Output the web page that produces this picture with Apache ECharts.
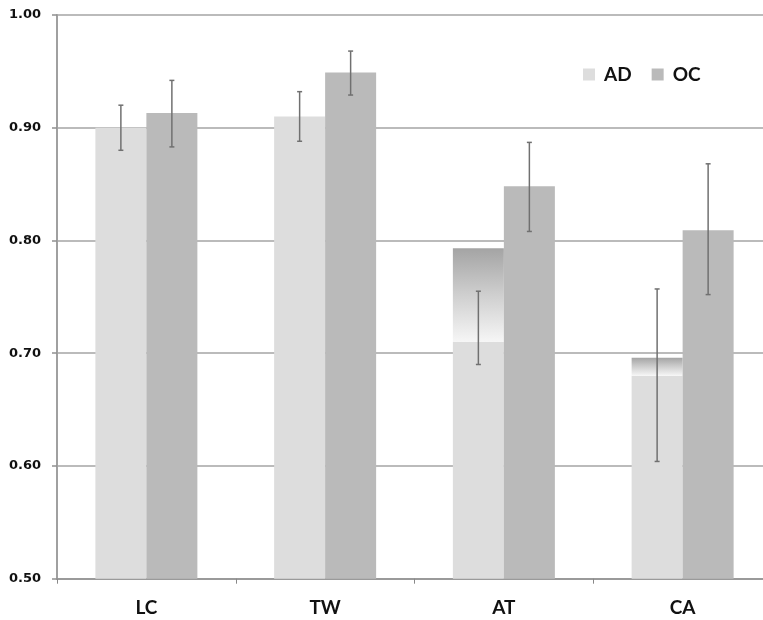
<!DOCTYPE html>
<html>
<head>
<meta charset="utf-8">
<script src="https://cdn.jsdelivr.net/npm/echarts@6/dist/echarts.min.js"></script>
<style>
  html, body { margin: 0; padding: 0; background: #ffffff; }
</style>
</head>
<body>
<div id="chart" style="width: 763px; height: 620px"></div>
<script>
  const categories = ['LC', 'TW', 'AT', 'CA']
  const yTicks = [0.5, 0.6, 0.7, 0.8, 0.9, 1.0]
  // AD 柱（实色部分）+ 顶部渐变部分
  const adValues = [0.900, 0.910, 0.710, 0.680]
  const adShade = [0, 0, 0.083, 0.016]
  const ocValues = [0.913, 0.949, 0.848, 0.809]
  // 误差线
  const adLow = [0.880, 0.888, 0.690, 0.604]
  const adHigh = [0.920, 0.932, 0.755, 0.757]
  const ocLow = [0.883, 0.929, 0.808, 0.752]
  const ocHigh = [0.942, 0.968, 0.887, 0.868]

  const BAR_W = 51

  function errorSeries(low, high, offset) {
    return {
      type: 'custom',
      z: 10,
      silent: true,
      data: categories.map((c, i) => [i, low[i], high[i]]),
      encode: { x: 0, y: [1, 2] },
      renderItem: function (params, api) {
        const i = api.value(0)
        const lo = api.coord([i, api.value(1)])
        const hi = api.coord([i, api.value(2)])
        const x = lo[0] + offset
        const cap = 2.5
        const style = { stroke: '#707070', lineWidth: 1.5 }
        return {
          type: 'group',
          children: [
            { type: 'line', shape: { x1: x, y1: hi[1], x2: x, y2: lo[1] }, style: style },
            { type: 'line', shape: { x1: x - cap, y1: hi[1], x2: x + cap, y2: hi[1] }, style: style },
            { type: 'line', shape: { x1: x - cap, y1: lo[1], x2: x + cap, y2: lo[1] }, style: style },
          ],
        }
      },
    }
  }

  const chart = echarts.init(document.getElementById('chart'))
  chart.setOption({
    animation: false,
    grid: { left: 57, right: -9, top: 15, bottom: 41.3, outerBoundsMode: 'none' },
    legend: {
      data: ['AD', 'OC'],
      left: 578,
      top: 60,
      itemWidth: 12,
      itemHeight: 12,
      itemGap: 20,
      icon: 'rect',
      textStyle: {
        fontFamily: 'Lato',
        fontWeight: 'bold',
        fontSize: 19,
        color: '#111',
        padding: [0, 0, 0, 4],
      },
    },
    xAxis: {
      type: 'category',
      data: categories,
      axisLine: { lineStyle: { color: '#9a9a9a', width: 2 } },
      axisTick: { show: true, length: 5, lineStyle: { color: '#888', width: 1 } },
      axisLabel: {
        margin: 20,
        fontFamily: 'Lato',
        fontWeight: 'bold',
        fontSize: 19,
        color: '#111',
      },
    },
    yAxis: {
      type: 'value',
      min: yTicks[0],
      max: yTicks[yTicks.length - 1],
      interval: 0.1,
      axisLine: { show: true, lineStyle: { color: '#a0a0a0', width: 2 } },
      axisTick: { show: true, length: 5, lineStyle: { color: '#909090', width: 1.5 } },
      splitLine: { lineStyle: { color: '#a4a4a4', width: 1.5 } },
      axisLabel: {
        margin: 16,
        fontFamily: 'DejaVu Sans',
        fontWeight: 'bold',
        fontSize: 13,
        color: '#111',
        formatter: (v) => v.toFixed(2),
      },
    },
    series: [
      {
        name: 'AD',
        type: 'bar',
        stack: 'ad',
        barWidth: BAR_W,
        barGap: '0%',
        itemStyle: { color: '#dddddd' },
        data: adValues,
      },
      {
        name: 'AD shade',
        type: 'bar',
        stack: 'ad',
        barWidth: BAR_W,
        itemStyle: {
          color: new echarts.graphic.LinearGradient(0, 0, 0, 1, [
            { offset: 0, color: '#a4a4a4' },
            { offset: 0.5, color: '#cfcfcf' },
            { offset: 1, color: '#f6f6f6' },
          ]),
        },
        data: adShade,
      },
      {
        name: 'OC',
        type: 'bar',
        barWidth: BAR_W,
        barGap: '0%',
        itemStyle: { color: '#bababa' },
        data: ocValues,
      },
      errorSeries(adLow, adHigh, -BAR_W / 2),
      errorSeries(ocLow, ocHigh, BAR_W / 2),
    ],
  })
  window.onresize = function () {
    chart.resize()
  }
</script>
</body>
</html>
